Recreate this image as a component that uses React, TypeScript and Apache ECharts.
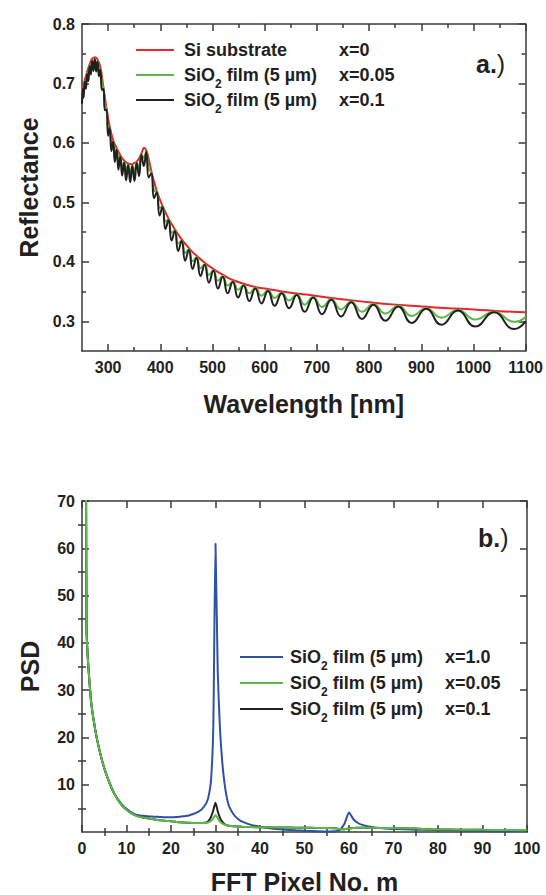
import React, { useEffect, useRef } from "react";
import * as echarts from "echarts";

// ---------- panel a: reflectance ----------
const redWavelengths = [250, 255, 260, 265, 270, 275, 280, 285, 290, 295, 300, 305, 310, 315, 320, 325, 330, 335, 340, 345, 350, 355, 360, 365, 369, 373, 378, 383, 388, 393, 400, 410, 420, 430, 440, 450, 460, 470, 480, 490, 500, 510, 520, 530, 540, 560, 580, 600, 620, 650, 680, 720, 760, 800, 850, 900, 950, 1000, 1050, 1100];
const reflSubstrate = [0.688, 0.705, 0.72, 0.733, 0.742, 0.744, 0.74, 0.728, 0.7, 0.67, 0.642, 0.62, 0.604, 0.594, 0.585, 0.577, 0.571, 0.567, 0.565, 0.564, 0.566, 0.569, 0.575, 0.585, 0.592, 0.588, 0.572, 0.552, 0.535, 0.52, 0.503, 0.483, 0.466, 0.452, 0.439, 0.428, 0.418, 0.41, 0.402, 0.395, 0.389, 0.383, 0.378, 0.373, 0.369, 0.363, 0.358, 0.355, 0.352, 0.348, 0.345, 0.34, 0.336, 0.332, 0.328, 0.325, 0.322, 0.32, 0.317, 0.315];

// fringe extrema (alternating trough / crest)
const filmWavelengths = [250.0, 251.7, 253.0, 255.3, 257.5, 259.8, 262.2, 264.5, 267.0, 269.4, 272.0, 274.5, 277.1, 279.8, 282.5, 285.3, 288.1, 291.0, 293.9, 296.9, 300.0, 303.1, 306.3, 309.6, 312.9, 316.3, 319.8, 323.3, 327.0, 330.7, 334.5, 338.4, 342.4, 346.4, 350.6, 354.9, 359.3, 363.8, 368.4, 373.1, 377.9, 382.9, 388.0, 393.2, 398.6, 404.2, 409.9, 415.7, 421.7, 427.9, 434.3, 440.9, 447.7, 454.7, 461.9, 469.4, 477.0, 485.0, 493.2, 501.7, 510.5, 519.6, 529.1, 538.9, 549.1, 559.6, 570.6, 582.0, 593.9, 606.3, 619.1, 632.6, 646.7, 661.4, 676.7, 692.9, 709.8, 727.5, 746.2, 765.8, 786.5, 808.3, 831.4, 855.9, 881.8, 909.4, 938.7, 970.0, 1003.4, 1039.3, 1077.8, 1100];
const reflFilm010 = [0.666, 0.691, 0.676, 0.703, 0.691, 0.716, 0.704, 0.729, 0.715, 0.738, 0.721, 0.741, 0.72, 0.737, 0.712, 0.723, 0.689, 0.691, 0.655, 0.656, 0.612, 0.625, 0.586, 0.602, 0.568, 0.589, 0.555, 0.577, 0.545, 0.567, 0.537, 0.563, 0.534, 0.561, 0.536, 0.566, 0.544, 0.58, 0.561, 0.585, 0.542, 0.549, 0.507, 0.517, 0.478, 0.492, 0.455, 0.47, 0.436, 0.452, 0.418, 0.435, 0.402, 0.42, 0.388, 0.407, 0.376, 0.395, 0.365, 0.385, 0.355, 0.375, 0.347, 0.366, 0.34, 0.36, 0.334, 0.355, 0.33, 0.351, 0.326, 0.347, 0.322, 0.344, 0.316, 0.34, 0.312, 0.336, 0.308, 0.332, 0.304, 0.328, 0.301, 0.325, 0.297, 0.321, 0.294, 0.318, 0.291, 0.315, 0.287, 0.3];
const reflFilm005 = [0.677, 0.692, 0.687, 0.704, 0.702, 0.717, 0.715, 0.73, 0.726, 0.739, 0.732, 0.742, 0.731, 0.738, 0.723, 0.724, 0.7, 0.692, 0.666, 0.657, 0.626, 0.626, 0.6, 0.603, 0.582, 0.59, 0.569, 0.578, 0.559, 0.568, 0.551, 0.564, 0.548, 0.562, 0.55, 0.567, 0.558, 0.581, 0.575, 0.586, 0.556, 0.55, 0.52, 0.518, 0.491, 0.493, 0.468, 0.471, 0.449, 0.453, 0.431, 0.436, 0.415, 0.421, 0.401, 0.408, 0.389, 0.396, 0.378, 0.386, 0.368, 0.376, 0.36, 0.367, 0.353, 0.361, 0.347, 0.356, 0.343, 0.352, 0.339, 0.348, 0.335, 0.345, 0.328, 0.341, 0.324, 0.337, 0.32, 0.333, 0.316, 0.329, 0.313, 0.326, 0.309, 0.322, 0.306, 0.319, 0.303, 0.316, 0.299, 0.307];

const waveMajor = [300, 400, 500, 600, 700, 800, 900, 1000, 1100];
const waveMinor = [350, 450, 550, 650, 750, 850, 950, 1050];
const reflMajor = [0.3, 0.4, 0.5, 0.6, 0.7, 0.8];
const reflMinor = [0.35, 0.45, 0.55, 0.65, 0.75];

// ---------- panel b: PSD ----------
const fftPixels = [0, 1, 2, 3, 4, 5, 6, 7, 8, 9, 10, 11, 12, 13, 14, 15, 16, 17, 18, 19, 20, 21, 22, 23, 24, 25, 26, 27, 28, 28.5, 29, 29.5, 30, 30.5, 31, 31.5, 32, 32.5, 33, 34, 35, 36, 38, 40, 43, 45, 48, 50, 52, 55, 57, 58, 59, 60, 61, 62, 63, 65, 68, 70, 75, 78, 80, 85, 90, 95, 100];
const psdX100 = [400, 44, 28, 21.5, 17, 13.5, 10.8, 8.6, 7.0, 5.8, 4.9, 4.2, 3.7, 3.5, 3.4, 3.3, 3.25, 3.2, 3.15, 3.1, 3.1, 3.15, 3.2, 3.35, 3.5, 3.8, 4.2, 4.9, 6.2, 7.8, 11, 22, 61, 34, 22, 15, 10.5, 7.5, 5.6, 3.8, 2.8, 2.2, 1.5, 1.1, 0.7, 0.55, 0.35, 0.25, 0.2, 0.12, 0.15, 0.5, 1.8, 4.1, 2.7, 1.9, 1.5, 1.05, 0.75, 0.65, 0.5, 0.45, 0.4, 0.3, 0.2, 0.15, 0.35];
const psdX005 = [400, 44, 28, 21.5, 17, 13.5, 10.8, 8.6, 6.9, 5.6, 4.7, 4.0, 3.5, 3.2, 3.0, 2.85, 2.7, 2.55, 2.45, 2.35, 2.25, 2.15, 2.05, 2.0, 1.95, 1.9, 1.9, 1.9, 1.95, 2.1, 2.4, 2.9, 3.6, 2.9, 2.2, 1.8, 1.55, 1.4, 1.3, 1.2, 1.15, 1.1, 1.05, 1.0, 0.97, 0.95, 0.92, 0.9, 0.88, 0.85, 0.8, 0.6, 0.6, 0.75, 0.85, 0.9, 0.9, 0.88, 0.85, 0.82, 0.75, 0.55, 0.52, 0.5, 0.45, 0.42, 0.4];
const psdX010 = [400, 44, 28, 21.5, 17, 13.5, 10.8, 8.6, 6.9, 5.6, 4.7, 4.0, 3.5, 3.2, 3.0, 2.85, 2.7, 2.55, 2.45, 2.35, 2.25, 2.15, 2.05, 2.0, 1.95, 1.9, 1.9, 1.9, 2.0, 2.4, 3.2, 4.6, 6.2, 4.4, 3.0, 2.2, 1.7, 1.45, 1.3, 1.2, 1.15, 1.1, 1.05, 1.0, 0.97, 0.95, 0.92, 0.9, 0.88, 0.85, 0.8, 0.6, 0.6, 0.75, 0.85, 0.9, 0.9, 0.88, 0.85, 0.82, 0.75, 0.55, 0.52, 0.5, 0.45, 0.42, 0.4];

const pixelMajor = [0, 10, 20, 30, 40, 50, 60, 70, 80, 90, 100];
const pixelMinor = [5, 15, 25, 35, 45, 55, 65, 75, 85, 95];
const psdMajor = [10, 20, 30, 40, 50, 60, 70];
const psdMinor = [5, 15, 25, 35, 45, 55, 65];

// ---------- styling ----------
const FONT = "'Liberation Sans', Arial, Helvetica, sans-serif";
const TEXT = "#231f20";
const AX = "#3a3a3a";
const RED = "#e8262b";
const GREEN = "#5cb947";
const BLACK = "#231f20";
const BLUE = "#3052a3";

const pairs = (xs: number[], ys: number[]) => xs.map((x, i) => [x, ys[i]]);

function axisSet(
  kind: "x" | "y",
  grid: number,
  min: number,
  max: number,
  major: number[],
  minor: number[],
  formatter: (v: number) => string,
  name: string,
  nameGap: number
) {
  const posA = kind === "x" ? "bottom" : "left";
  const posB = kind === "x" ? "top" : "right";
  const base = { type: "value", gridIndex: grid, min, max, splitLine: { show: false } };
  const line = { show: true, onZero: false, lineStyle: { color: AX, width: 1.5 } };
  const tick = (vals: number[], len: number) => ({
    show: true,
    inside: true,
    length: len,
    customValues: vals,
    lineStyle: { color: AX, width: 1.5 },
  });
  return [
    {
      ...base,
      position: posA,
      axisLine: line,
      axisTick: tick(major, 7),
      axisLabel: {
        show: true,
        customValues: major,
        formatter,
        margin: kind === "x" ? 8 : 7,
        fontSize: 16,
        fontWeight: "bold",
        color: TEXT,
        fontFamily: FONT,
      },
      name,
      nameLocation: "middle",
      nameGap,
      nameTextStyle: { fontSize: 25, fontWeight: "bold", color: TEXT, fontFamily: FONT },
    },
    { ...base, position: posA, axisLine: { show: false }, axisTick: tick(minor, 4), axisLabel: { show: false } },
    { ...base, position: posB, axisLine: line, axisTick: tick(major, 7), axisLabel: { show: false } },
    { ...base, position: posB, axisLine: { show: false }, axisTick: tick(minor, 4), axisLabel: { show: false } },
  ];
}

const richMain = { fontSize: 18, fontWeight: "bold", fontFamily: FONT, fill: TEXT, color: TEXT, lineHeight: 30 };
const richSub = { fontSize: 12, fontWeight: "bold", fontFamily: FONT, fill: TEXT, color: TEXT, lineHeight: 12, verticalAlign: "bottom" };

function legendRow(x0: number, x1: number, tx: number, y: number, color: string, label: string, xLabel: string) {
  return [
    { type: "line", shape: { x1: x0, y1: y, x2: x1, y2: y }, style: { stroke: color, lineWidth: 2 } },
    {
      type: "text",
      x: tx,
      y,
      style: { text: label, rich: { n: richMain, s: richSub }, align: "left", verticalAlign: "middle" },
    },
    {
      type: "text",
      x: tx + 155,
      y,
      style: { text: xLabel, fontSize: 18, fontWeight: "bold", fontFamily: FONT, fill: TEXT, align: "left", verticalAlign: "middle" },
    },
  ];
}

const SUB = "{n|Si substrate}";
const SIO2 = "{n|SiO}{s|2}{n| film (5 µm)}";

function panelTag(x: number, y: number, letter: string) {
  return {
    type: "text",
    x,
    y,
    style: {
      text: `{b|${letter}.}{p|)}`,
      rich: {
        b: { fontSize: 25, fontWeight: "bold", fontFamily: FONT, fill: TEXT },
        p: { fontSize: 25, fontWeight: "normal", fontFamily: FONT, fill: TEXT },
      },
      align: "left",
      verticalAlign: "middle",
    },
  };
}

const fmtInt = (v: number) => String(v);
const fmt1 = (v: number) => v.toFixed(1);

const option = {
  animation: false,
  backgroundColor: "#ffffff",
  textStyle: { fontFamily: FONT },
  grid: [
    { left: 82, top: 24, width: 445, height: 327 },
    { left: 82, top: 501, width: 445, height: 332 },
  ],
  xAxis: [
    ...axisSet("x", 0, 250, 1100, waveMajor, waveMinor, fmtInt, "Wavelength [nm]", 40),
    ...axisSet("x", 1, 0, 100, pixelMajor, pixelMinor, fmtInt, "FFT Pixel No. m", 37),
  ],
  yAxis: [
    ...axisSet("y", 0, 0.25, 0.8, reflMajor, reflMinor, fmt1, "Reflectance", 40),
    ...axisSet("y", 1, 0, 70, psdMajor, psdMinor, fmtInt, "PSD", 40),
  ],
  series: [
    {
      name: "Si substrate x=0",
      type: "line",
      xAxisIndex: 0,
      yAxisIndex: 0,
      data: pairs(redWavelengths, reflSubstrate),
      smooth: true,
      symbol: "none",
      lineStyle: { color: RED, width: 2 },
    },
    {
      name: "SiO2 film x=0.05",
      type: "line",
      xAxisIndex: 0,
      yAxisIndex: 0,
      data: pairs(filmWavelengths, reflFilm005),
      smooth: true,
      symbol: "none",
      lineStyle: { color: GREEN, width: 2 },
    },
    {
      name: "SiO2 film x=0.1",
      type: "line",
      xAxisIndex: 0,
      yAxisIndex: 0,
      data: pairs(filmWavelengths, reflFilm010),
      smooth: true,
      symbol: "none",
      lineStyle: { color: BLACK, width: 2 },
    },
    {
      name: "PSD x=1.0",
      type: "line",
      xAxisIndex: 4,
      yAxisIndex: 4,
      data: pairs(fftPixels, psdX100),
      smooth: 0.2,
      symbol: "none",
      lineStyle: { color: BLUE, width: 2 },
    },
    {
      name: "PSD x=0.1",
      type: "line",
      xAxisIndex: 4,
      yAxisIndex: 4,
      data: pairs(fftPixels, psdX010),
      smooth: 0.2,
      symbol: "none",
      lineStyle: { color: BLACK, width: 2 },
    },
    {
      name: "PSD x=0.05",
      type: "line",
      xAxisIndex: 4,
      yAxisIndex: 4,
      data: pairs(fftPixels, psdX005),
      smooth: 0.2,
      symbol: "none",
      lineStyle: { color: GREEN, width: 2 },
    },
  ],
  graphic: [
    ...legendRow(136, 174, 184, 50, RED, SUB, "x=0"),
    ...legendRow(136, 174, 184, 75, GREEN, SIO2, "x=0.05"),
    ...legendRow(136, 174, 184, 100, BLACK, SIO2, "x=0.1"),
    panelTag(476, 64, "a"),
    ...legendRow(240, 283, 290, 657, BLUE, SIO2, "x=1.0"),
    ...legendRow(240, 283, 290, 683, GREEN, SIO2, "x=0.05"),
    ...legendRow(240, 283, 290, 709, BLACK, SIO2, "x=0.1"),
    panelTag(478, 538, "b"),
  ],
};

export default function App() {
  const ref = useRef<HTMLDivElement>(null);
  useEffect(() => {
    const chart = echarts.init(ref.current!, null, { renderer: "svg" });
    chart.setOption(option as any);
    return () => chart.dispose();
  }, []);
  return <div ref={ref} style={{ position: "absolute", left: 0, top: 0, width: 546, height: 895 }} />;
}
